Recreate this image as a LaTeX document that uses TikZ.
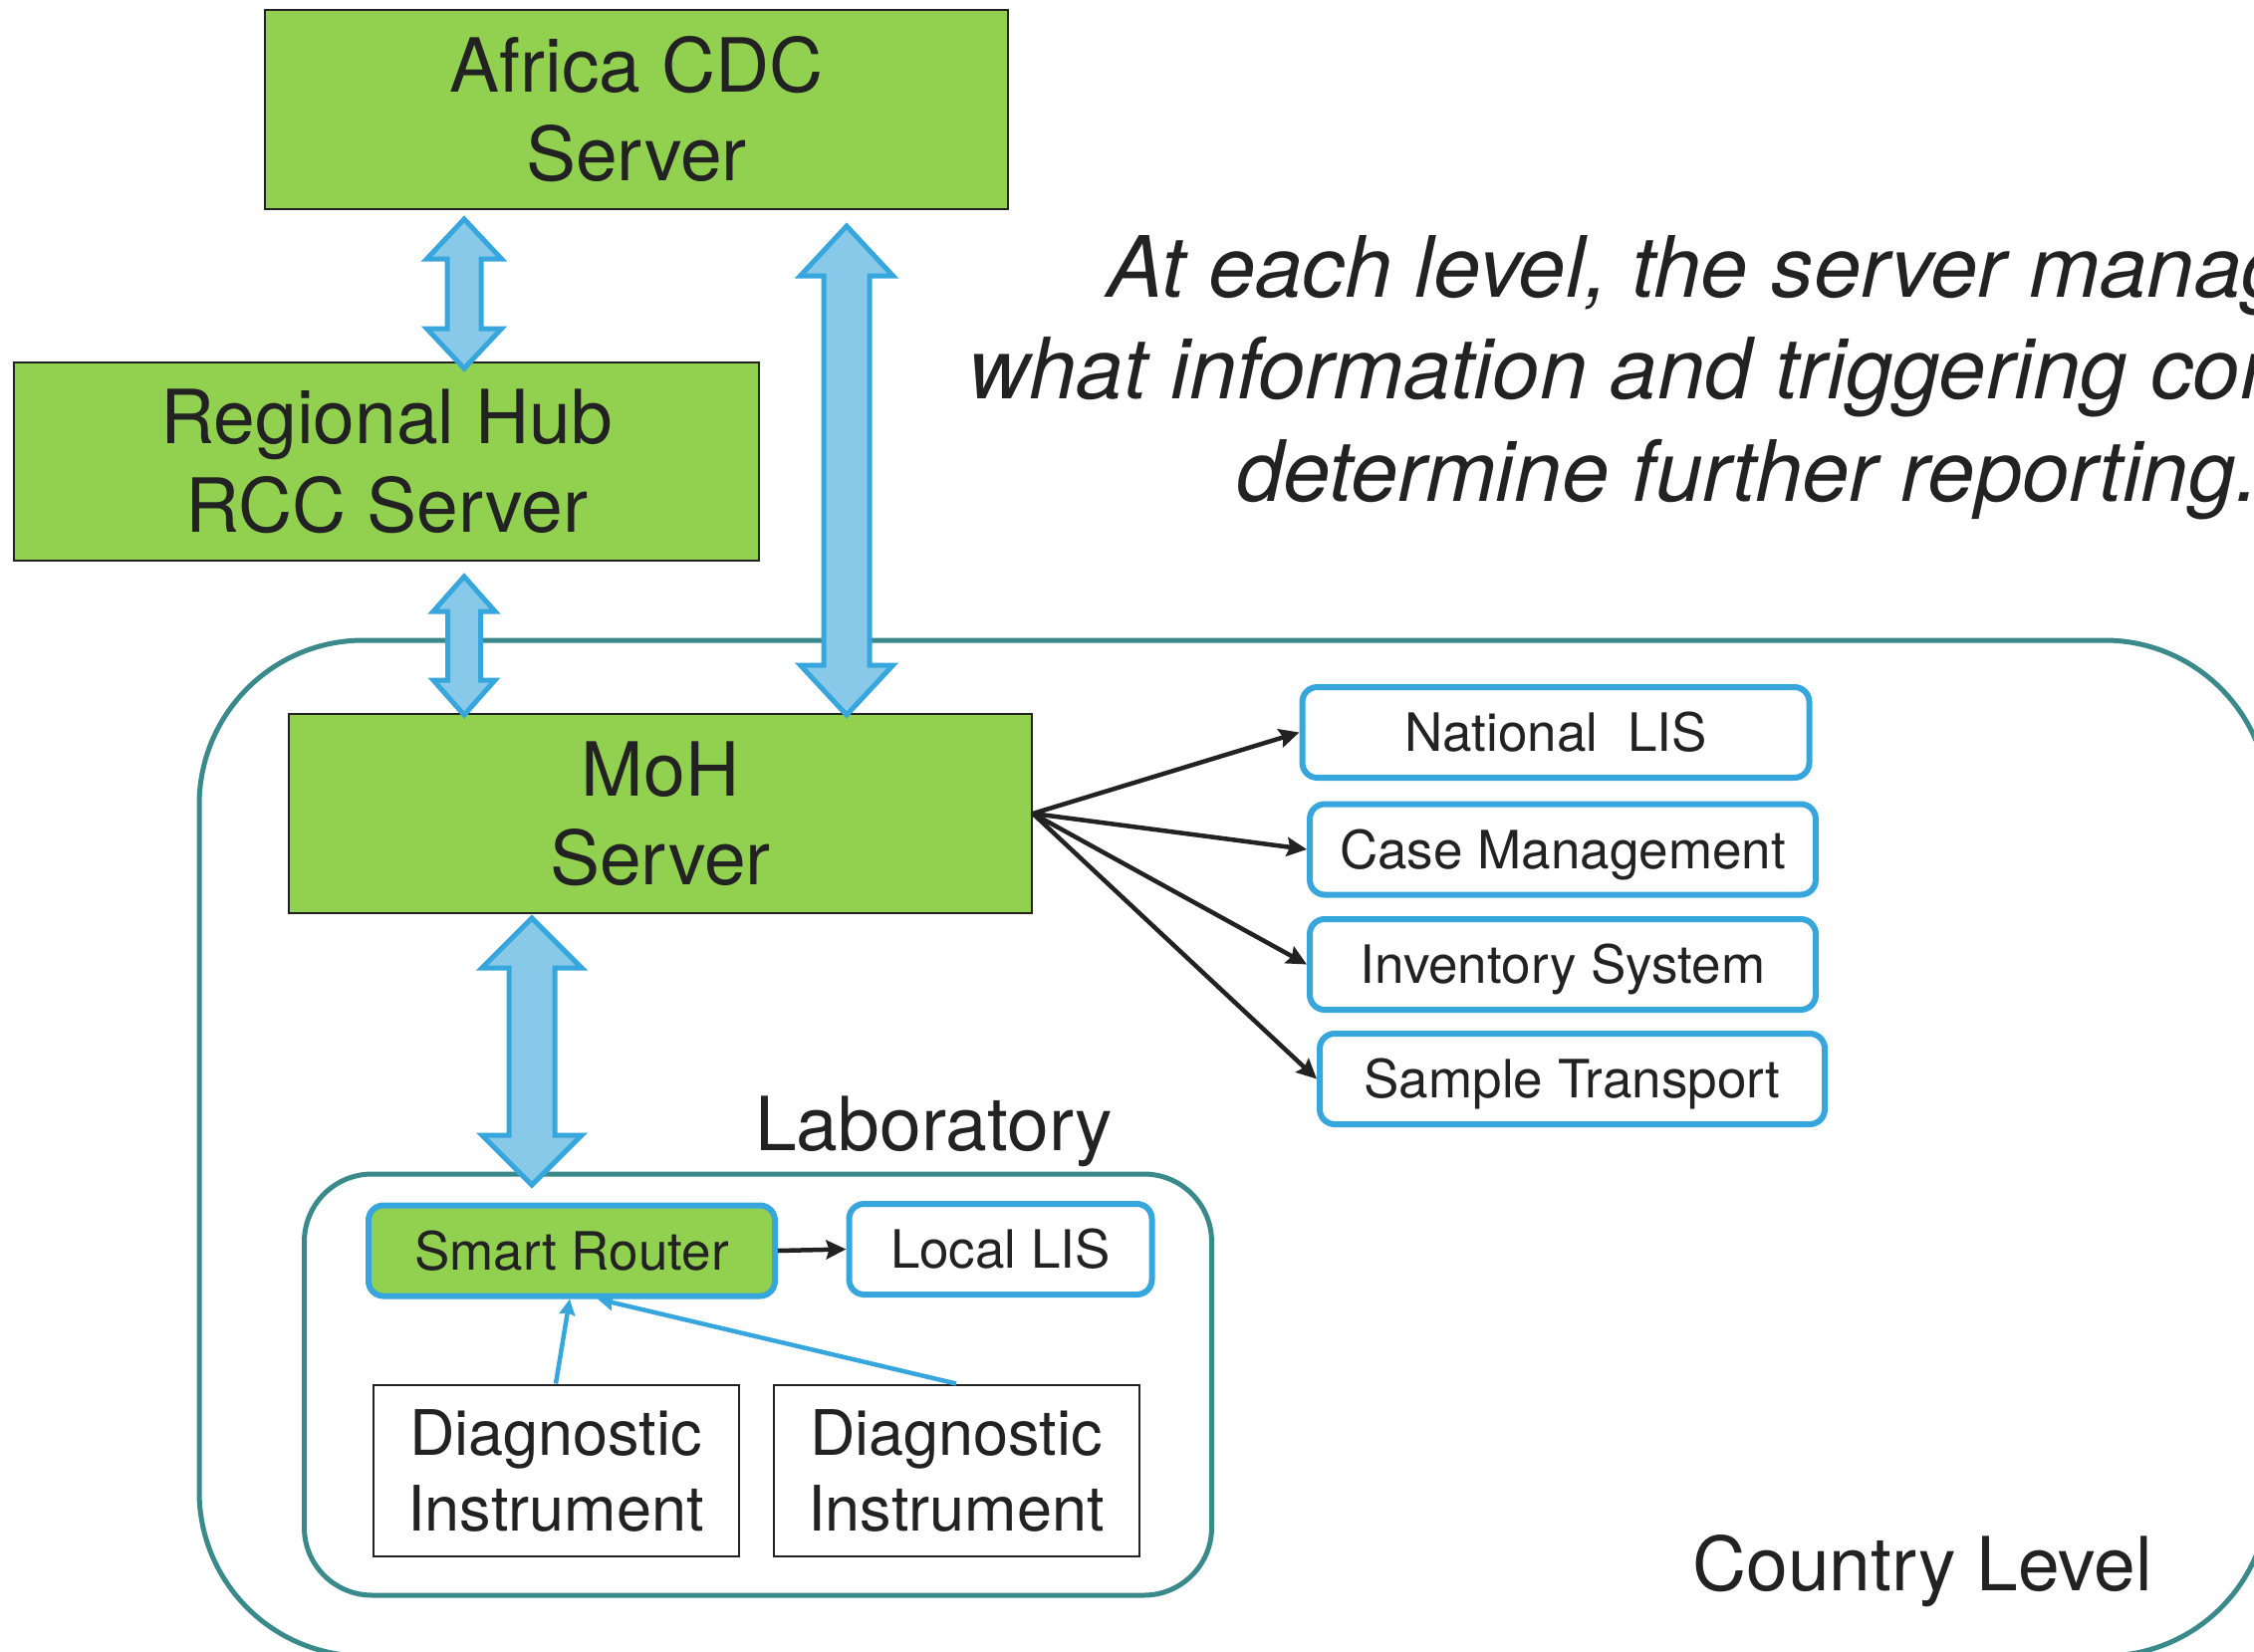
\documentclass[tikz,border=0pt]{standalone}
\usepackage{fontspec}
\setmainfont{TeX Gyre Heros}
\usetikzlibrary{arrows.meta,calc}
\definecolor{cgreen}{HTML}{92D050}
\definecolor{cblue}{HTML}{36A6DC}
\definecolor{clight}{HTML}{88C9E9}
\definecolor{cteal}{HTML}{3A898B}
\definecolor{ctext}{HTML}{222222}
\newcommand\blockarrow[6]{%
  \draw[bigarrow] (#1,#2) -- ({#1+#4},{#2+#6}) -- ({#1+#5},{#2+#6}) -- ({#1+#5},{#3-#6})
    -- ({#1+#4},{#3-#6}) -- (#1,#3) -- ({#1-#4},{#3-#6}) -- ({#1-#5},{#3-#6})
    -- ({#1-#5},{#2+#6}) -- ({#1-#4},{#2+#6}) -- cycle;}
\begin{document}
\begin{tikzpicture}[x=1pt,y=-1pt,
  every node/.style={text=ctext, inner sep=0pt},
  serverbox/.style={draw=ctext, line width=2pt, fill=cgreen, align=center,
    font=\fontsize{75}{89}\selectfont},
  sysbox/.style={draw=cblue, line width=6pt, rounded corners=15pt, fill=white,
    font=\fontsize{53}{60}\selectfont, text height=38pt, text depth=0pt,
    minimum height=91pt},
  routerbox/.style={sysbox, fill=cgreen},
  instbox/.style={draw=ctext, line width=2pt, fill=white, align=center,
    font=\fontsize{63}{76}\selectfont, minimum width=367pt, minimum height=172pt},
  container/.style={draw=cteal, line width=5pt},
  bigarrow/.style={fill=clight, draw=cblue, line width=5pt, line join=miter},
  blackarrow/.style={draw=ctext, line width=4.5pt, -{Stealth[length=20pt,width=19pt,inset=3pt]}},
  bluearrow/.style={draw=cblue, line width=4.5pt, -{Stealth[length=16pt,width=16pt,inset=2pt]}},
  biglabel/.style={font=\fontsize{75}{89}\selectfont, anchor=base west},
  notetext/.style={font=\fontsize{85}{101}\selectfont\itshape, anchor=base west}
]
\useasboundingbox (0,0) rectangle (2263,1659);
\clip (0,0) rectangle (2263,1659);

% containers
\node[container, rounded corners=165pt, minimum width=2078pt, minimum height=1020pt] (country) at (1239,1153) {};
\node[container, rounded corners=68pt, minimum width=911pt, minimum height=423pt] (lab) at (761,1390.5) {};

% servers
\node[serverbox, minimum width=746pt, minimum height=199pt] (africa) at (639,110) {Africa CDC\\Server};
\node[serverbox, minimum width=748pt, minimum height=199pt] (regional) at (388,463.5) {Regional Hub\\RCC Server};
\node[serverbox, minimum width=746pt, minimum height=200pt] (moh) at (663,817) {MoH\\Server};

% national systems
\node[sysbox, minimum width=509pt] (natlis) at (1562,735.5) {National\ \ LIS};
\node[sysbox, minimum width=508pt] (casem) at (1569,853) {Case Management};
\node[sysbox, minimum width=508pt] (inv) at (1569,968.5) {Inventory System};
\node[sysbox, minimum width=507pt] (sample) at (1578.5,1083.5) {Sample Transport};

% laboratory
\node[routerbox, minimum width=408pt] (smart) at (574,1256) {Smart Router};
\node[sysbox, minimum width=304pt] (local) at (1004.5,1254.5) {Local LIS};
\node[instbox] (diag1) at (558,1476.5) {Diagnostic\\Instrument};
\node[instbox] (diag2) at (960,1476.5) {Diagnostic\\Instrument};

% labels
\node[biglabel] (lablabel) at (758,1155) {Laboratory};
\node[biglabel] (countrylabel) at (1699,1597) {Country Level};
\node[notetext] (note1) at (1111,298) {At each level, the server manag};
\node[notetext] (note2) at (972,400) {what information and triggering con};
\node[notetext] (note3) at (1241,503) {determine further reporting.};

% thin connectors
\draw[blackarrow] (moh.east) -- (natlis.west);
\draw[blackarrow] (moh.east) -- (casem.west);
\draw[blackarrow] (moh.east) -- (inv.west);
\draw[blackarrow] (moh.east) -- (sample.west);
\draw[blackarrow] (smart.east) -- (local.west);
\draw[bluearrow] (diag1.north) -- ($(smart.south)+(-2,0)$);
\draw[bluearrow] (diag2.north) -- ($(smart.south)+(26,0)$);

% block arrows
\blockarrow{466}{220}{370}{37.5}{17}{40}
\blockarrow{466}{579}{718}{31}{16.5}{35}
\blockarrow{850}{227}{718}{46.5}{23}{50}
\blockarrow{534}{922}{1190}{50}{23}{50}
\end{tikzpicture}
\end{document}
